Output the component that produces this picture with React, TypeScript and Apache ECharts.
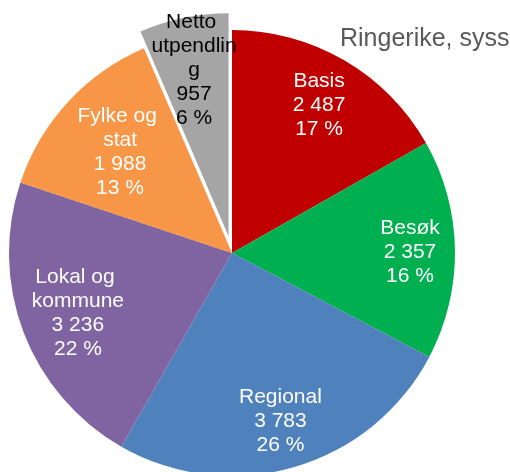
import React, { useEffect, useRef } from "react";
import * as echarts from "echarts";

const categories = ["Basis", "Besøk", "Regional", "Lokal og kommune", "Fylke og stat", "Netto utpendling"];
const values = [2487, 2357, 3783, 3236, 1988, 957];
const percents = [17, 16, 26, 22, 13, 6];
const colors = ["#C00000", "#00B050", "#4F81BD", "#8064A2", "#F79646", "#A5A5A5"];
const labelColors = ["#fff", "#fff", "#fff", "#fff", "#fff", "#000"];
const titleText = "Ringerike, syss";

// label distance from centre for each slice (layout/style)
const labelRadius = [170, 175, 170, 162, 149, 168];
const labelWidth = [100, 100, 100, 100, 100, 88];

const fmtNum = (v: number) => String(v).replace(/\B(?=(\d{3})+(?!\d))/g, " ");

export default function App() {
  const ref = useRef<HTMLDivElement>(null);
  useEffect(() => {
    const chart = echarts.init(ref.current!, null, { renderer: "svg" });
    const center = [232, 253];
    const R = 223;
    const OFFSET = 17;
    const isExploded = (i: number) => i === 5;
    const baseData = categories.map((c, i) => ({
      name: c,
      value: values[i],
      selected: isExploded(i),
      itemStyle: { color: colors[i] },
    }));
    const overlays = categories.map((_, k) => ({
      type: "pie",
      center,
      radius: [2 * labelRadius[k] - R, R],
      startAngle: 90,
      clockwise: true,
      selectedMode: "multiple",
      selectedOffset: OFFSET,
      silent: true,
      avoidLabelOverlap: false,
      minShowLabelAngle: 0,
      z: 3,
      emphasis: { disabled: true },
      labelLine: { show: false },
      labelLayout: { hideOverlap: false },
      label: {
        show: false,
        position: "inner",
        fontSize: 21,
        lineHeight: 24,
        fontFamily: "Liberation Sans, Arial, sans-serif",
        align: "center",
      },
      data: categories.map((c, i) => ({
        name: c,
        value: values[i],
        selected: isExploded(i),
        itemStyle: { color: "rgba(0,0,0,0)" },
        label:
          i === k
            ? {
                show: true,
                color: labelColors[i],
                formatter: `${c}\n${fmtNum(values[i])}\n${percents[i]} %`,
                width: labelWidth[i],
                overflow: "break",
              }
            : { show: false },
      })),
    }));
    chart.setOption({
      animation: false,
      title: {
        text: titleText,
        left: 335,
        top: 19,
        textStyle: { color: "#595959", fontSize: 25, fontWeight: "normal", fontFamily: "Liberation Sans, Arial, sans-serif" },
      },
      series: [
        {
          type: "pie",
          center,
          radius: [0, R],
          startAngle: 90,
          clockwise: true,
          selectedMode: "multiple",
          selectedOffset: OFFSET,
          silent: true,
          avoidLabelOverlap: false,
          label: { show: false },
          labelLine: { show: false },
          emphasis: { disabled: true },
          itemStyle: { borderWidth: 0 },
          data: baseData,
        },
        ...overlays,
      ],
    });
    return () => chart.dispose();
  }, []);
  return <div ref={ref} style={{ position: "fixed", left: 0, top: 0, width: 510, height: 472 }} />;
}
